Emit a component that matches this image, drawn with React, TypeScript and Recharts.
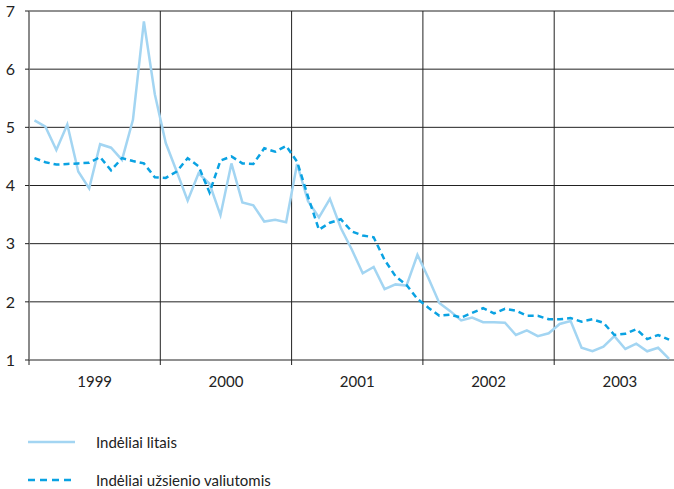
import React from 'react';
import { LineChart, Line, XAxis, YAxis, CartesianGrid, ReferenceLine } from 'recharts';

const yearLabels = ['1999', '2000', '2001', '2002', '2003'];
const yTicks = [1, 2, 3, 4, 5, 6, 7];
const yearBounds = [0, 12, 24, 36, 48, 60];
const yearCenters = [6, 18, 30, 42, 54];

const litai = [
  5.12, 5.01, 4.61, 5.05, 4.24, 3.95, 4.71, 4.65, 4.44, 5.13, 6.82, 5.57,
  4.73, 4.24, 3.74, 4.21, 4.03, 3.49, 4.38, 3.71, 3.66, 3.38, 3.41, 3.37,
  4.37, 3.73, 3.45, 3.77, 3.27, 2.9, 2.49, 2.6, 2.22, 2.3, 2.28, 2.81,
  2.41, 1.98, 1.84, 1.68, 1.73, 1.65, 1.65, 1.64, 1.43, 1.51, 1.41, 1.46,
  1.62, 1.67, 1.21, 1.15, 1.23, 1.41, 1.19, 1.28, 1.15, 1.21, 1.02,
];

const uzsienio = [
  4.47, 4.4, 4.36, 4.37, 4.38, 4.39, 4.49, 4.26, 4.47, 4.42, 4.38, 4.14,
  4.13, 4.24, 4.47, 4.33, 3.88, 4.43, 4.5, 4.38, 4.37, 4.64, 4.58, 4.68,
  4.41, 3.81, 3.24, 3.36, 3.42, 3.21, 3.14, 3.11, 2.72, 2.44, 2.29, 2.05,
  1.9, 1.76, 1.78, 1.73, 1.81, 1.89, 1.8, 1.88, 1.85, 1.76, 1.76, 1.7,
  1.7, 1.72, 1.66, 1.7, 1.64, 1.43, 1.45, 1.53, 1.36, 1.43, 1.35,
];

const data = litai.map((v, i) => ({ m: i + 0.5, litai: v, uzs: uzsienio[i] }));

const FONT = 'Lato, "Open Sans", sans-serif';
const SOLID = '#a3d5f2';
const DASH = '#0aa2e2';
const GRID = '#222';

export default function App() {
  return (
    <div style={{ position: 'absolute', left: 0, top: 0, width: 674, height: 489, overflow: 'hidden', background: '#fff', fontFamily: FONT }}>
      <LineChart
        width={690}
        height={489}
        data={data}
        margin={{ top: 11, right: 4.5, left: 0, bottom: 94 }}
      >
        <CartesianGrid vertical={false} stroke={GRID} strokeWidth={1} />
        {yearBounds.map((b) => (
          <ReferenceLine key={b} x={b} xAxisId="grid" stroke={GRID} strokeWidth={1} />
        ))}
        <XAxis
          xAxisId="grid"
          dataKey="m"
          type="number"
          domain={[0, 60]}
          ticks={yearBounds}
          tickFormatter={() => ''}
          tickSize={5}
          height={5}
          axisLine={false}
          tickLine={{ stroke: GRID }}
          allowDataOverflow
        />
        <XAxis
          xAxisId="years"
          dataKey="m"
          type="number"
          domain={[0, 60]}
          ticks={yearCenters}
          tickFormatter={(v: number) => yearLabels[Math.floor(v / 12)]}
          axisLine={false}
          tickLine={false}
          tickSize={0}
          tickMargin={11}
          height={30}
          tick={{ fill: '#222', fontSize: 15, fontFamily: FONT }}
        />
        <YAxis
          type="number"
          domain={[1, 7]}
          ticks={yTicks}
          width={29}
          tickSize={4}
          tickMargin={10}
          axisLine={{ stroke: '#888', strokeWidth: 1.5 }}
          tickLine={{ stroke: GRID }}
          tick={{ fill: '#222', fontSize: 16, fontFamily: FONT }}
        />
        <Line
          xAxisId="grid"
          type="linear"
          dataKey="litai"
          stroke={SOLID}
          strokeWidth={2.5}
          dot={false}
          isAnimationActive={false}
        />
        <Line
          xAxisId="grid"
          type="linear"
          dataKey="uzs"
          stroke={DASH}
          strokeWidth={2.5}
          strokeDasharray="6 4"
          dot={false}
          isAnimationActive={false}
        />
      </LineChart>
      <div style={{ position: 'absolute', left: 28, top: 430, fontSize: 15, color: '#222', fontFamily: FONT }}>
        <div style={{ display: 'flex', alignItems: 'center', height: 24 }}>
          <svg width={68} height={10}>
            <line x1={0} y1={5} x2={47} y2={5} stroke={SOLID} strokeWidth={2.5} />
          </svg>
          <span>Indėliai litais</span>
        </div>
        <div style={{ display: 'flex', alignItems: 'center', height: 24, marginTop: 14 }}>
          <svg width={68} height={10}>
            <line x1={0} y1={5} x2={47} y2={5} stroke={DASH} strokeWidth={2.5} strokeDasharray="7 5" />
          </svg>
          <span>Indėliai užsienio valiutomis</span>
        </div>
      </div>
    </div>
  );
}
